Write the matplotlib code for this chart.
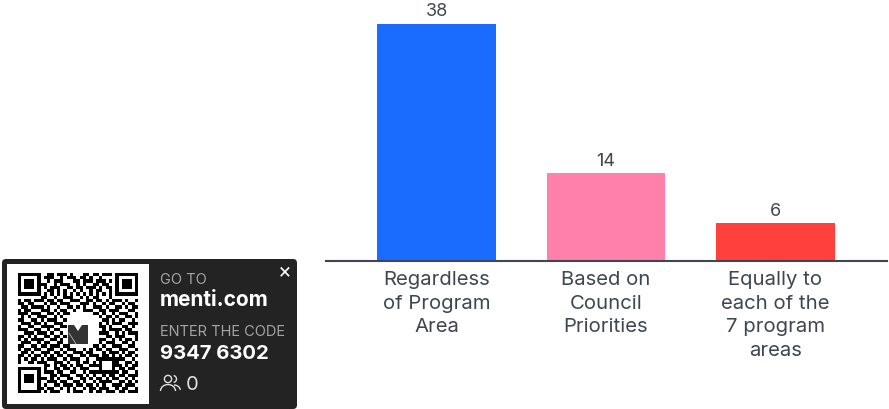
#!/usr/bin/env python3
"""Bar chart of votes with the menti.com join panel on the left."""
import matplotlib
matplotlib.use("Agg")
import matplotlib.pyplot as plt
import numpy as np
from matplotlib.patches import Arc, Circle, FancyBboxPatch, Polygon, Rectangle

W, H = 889, 409

categories = ["Regardless\nof Program\nArea", "Based on\nCouncil\nPriorities",
              "Equally to\neach of the\n7 program\nareas"]
votes = [38, 14, 6]
bar_colors = ["#196cff", "#ff80ab", "#ff403d"]
text_color = "#3f4553"
line_color = "#3f4553"

qr_rows = [
    "1111111001101110100011011011101111111",
    "1000001011100101110110100100001000001",
    "1011101001011100011011101110101011101",
    "1011101110010111001010011011001011101",
    "1011101010111001101101110101101011101",
    "1000001001101010010100101100101000001",
    "1111111010101010101010101010101111111",
    "0000000110010011100101011000100000000",
    "1011011101101100111001101101011101001",
    "1101100010110111000111010010110010110",
    "0110111101001001101010011101001101011",
    "1011000111010110010011100110111000110",
    "1110111001101011000000011010010111001",
    "0101001110010100000000000101101001101",
    "1100110101110010000000000011010110010",
    "0111011010011100000000000101011100111",
    "1001100111100110000000000110100011010",
    "1110011001011000000000000010111101100",
    "0011101110100100000000000111001010111",
    "1101010011011010000000000001101110001",
    "1010111100110100000000000110010101101",
    "0111001011001100000000000101110011010",
    "1100110110111011000000011010011100110",
    "1011011001100101110010101101100111001",
    "0110100111011010011101100010111010110",
    "1101011010101101100110111011010101101",
    "1010110101110010111001001111111110010",
    "1001101110011101001011010100011001101",
    "0000000011010110101100111100011101011",
    "1111111010011011010111000100010110110",
    "1000001011101100110010111111111011001",
    "1011101000110111001101010010110110111",
    "1011101110101001100110101101011001010",
    "1011101001110110011010010111100110101",
    "1000001010011011101101101010011101110",
    "1000001101100101010010110111001011001",
    "1111111010111001011100101101110110111",
]

fig = plt.figure(figsize=(W / 100, H / 100), dpi=100)
plt.rcParams["font.family"] = ["Inter", "DejaVu Sans"]

# chart area, placed by pixel position of the baseline
ax = fig.add_axes([326 / W, (H - 260.5) / H, (887 - 326) / W, 260.5 / H])
x = np.arange(len(votes))
bars = ax.bar(x, votes, width=0.702, color=bar_colors)
ax.bar_label(bars, labels=[str(v) for v in votes], padding=2.5, fontsize=13, color=text_color)
ax.set_xlim(-0.652, 2.658)
ax.set_ylim(0, 260.5 / 6.23)
ax.set_xticks(x)
ax.set_xticklabels(categories, fontsize=14.6, color=text_color, linespacing=1.4, va="top")
ax.tick_params(axis="x", length=0, pad=7.5)
ax.set_yticks([])
for side in ["top", "left", "right"]:
    ax.spines[side].set_visible(False)
ax.spines["bottom"].set_color(line_color)
ax.spines["bottom"].set_linewidth(1.5)
ax.patch.set_alpha(0)

# overlay in pixel coordinates for the join panel
ov = fig.add_axes([0, 0, 1, 1])
ov.set_xlim(0, W)
ov.set_ylim(H, 0)
ov.axis("off")
ov.patch.set_alpha(0)

ov.add_patch(FancyBboxPatch((5, 262), 289, 144, boxstyle="round,pad=3,rounding_size=4",
                            fc="#232323", ec="none"))
ov.add_patch(Rectangle((7, 264), 142, 140, fc="white", ec="none"))

qr = np.array([[int(c) for c in row] for row in qr_rows])
ov.imshow(1 - qr, cmap="gray", vmin=0, vmax=1, extent=(18, 138, 393, 273),
          interpolation="antialiased", aspect="auto", zorder=2)
ov.set_xlim(0, W)
ov.set_ylim(H, 0)

# logo in the middle of the code
ov.add_patch(Rectangle((68, 325), 20, 19, fc="#333333", ec="none", zorder=3))
ov.add_patch(Polygon([(74, 325), (78, 331), (82, 325)], fc="white", ec="none", zorder=4))
ov.plot([69, 76], [333, 344], color="#bbbbbb", lw=0.6, zorder=4)

ov.text(160, 280, "GO TO", color="#a3a3a3", fontsize=10.5, va="center", zorder=5)
ov.text(160, 300, "menti.com", color="white", fontsize=15, fontweight="bold", va="center", zorder=5)
ov.text(160, 331.5, "ENTER THE CODE", color="#a3a3a3", fontsize=10.5, va="center", zorder=5)
ov.text(160, 354, "9347 6302", color="white", fontsize=14.6, fontweight="bold", va="center", zorder=5)
ov.text(186, 385, "0", color="#e0e0e0", fontsize=14.5, va="center", zorder=5)
ov.text(284.5, 271, "×", color="white", fontsize=15, ha="center", va="center", zorder=5)

# people icon
ov.add_patch(Circle((168, 379), 3.6, fc="none", ec="#e0e0e0", lw=1, zorder=5))
ov.add_patch(Arc((168, 391), 15, 13, theta1=180, theta2=360, ec="#e0e0e0", lw=1, zorder=5))
ov.add_patch(Arc((173, 379), 7, 7, theta1=-80, theta2=80, ec="#e0e0e0", lw=1, zorder=5))
ov.add_patch(Arc((174, 391), 13, 12, theta1=270, theta2=350, ec="#e0e0e0", lw=1, zorder=5))

fig.savefig("out.png", dpi=100)
